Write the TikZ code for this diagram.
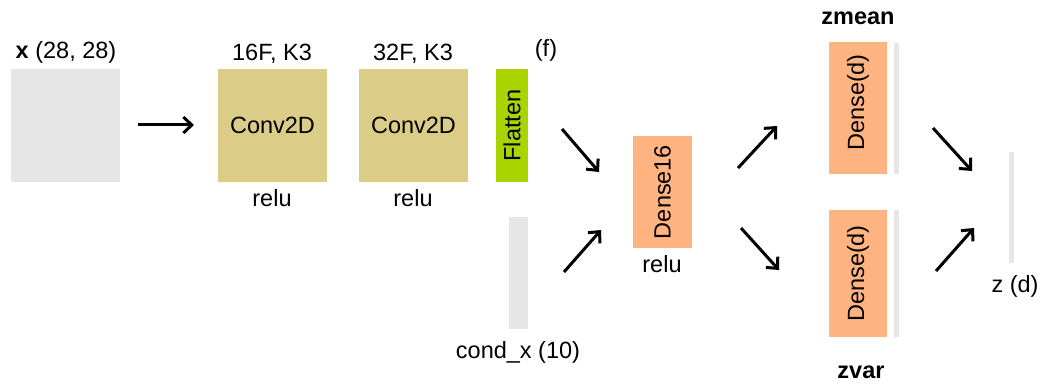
\documentclass[tikz,border=0pt]{standalone}
\usepackage{fontspec}
\setmainfont{Liberation Sans}
\usetikzlibrary{arrows.meta}
\definecolor{inputgray}{HTML}{E6E6E6}
\definecolor{convtan}{HTML}{DBCC88}
\definecolor{flatgreen}{HTML}{AAD400}
\definecolor{densesalmon}{HTML}{FFB380}
\tikzset{
  layer/.style={draw=none, inner sep=0pt, outer sep=0pt, font=\fontsize{23.5}{27}\selectfont},
  datavec/.style={layer, fill=inputgray},
  conv/.style={layer, fill=convtan},
  flat/.style={layer, fill=flatgreen},
  dense/.style={layer, fill=densesalmon},
  lbl/.style={inner sep=0pt, outer sep=0pt, anchor=base, font=\fontsize{23.5}{27}\selectfont},
  flow/.style={line width=3pt, -{Straight Barb[length=8.5pt,width=16pt,line width=3pt]}}
}
\begin{document}
\begin{tikzpicture}[x=1pt,y=-1pt]
\useasboundingbox (0,0) rectangle (1044,387);

% input image and convolution stack
\node[datavec, minimum width=109pt, minimum height=113pt] (x) at (65.5,125.5) {};
\node[conv, minimum width=109pt, minimum height=113pt] (c1) at (272.5,125.5) {Conv2D};
\node[conv, minimum width=109pt, minimum height=113pt] (c2) at (413.5,125.5) {Conv2D};
\node[flat, minimum width=32pt, minimum height=113pt] (fl) at (512,125.5) {\rotatebox{90}{Flatten}};
\node[datavec, minimum width=19pt, minimum height=112pt] (cx) at (518.5,273) {};

% dense layers
\node[dense, minimum width=59pt, minimum height=112pt] (d16) at (662.5,192) {\rotatebox{90}{Dense16}};
\node[dense, minimum width=58pt, minimum height=132pt] (dm) at (858,108) {\rotatebox{90}{\hspace*{11pt}Dense(d)}};
\node[dense, minimum width=58pt, minimum height=127pt] (dv) at (858,273.5) {\rotatebox{90}{Dense(d)}};
\node[datavec, minimum width=5pt, minimum height=131pt] (bm) at (896.5,108.5) {};
\node[datavec, minimum width=5pt, minimum height=127pt] (bv) at (896.5,273.5) {};
\node[datavec, minimum width=5pt, minimum height=111pt] (z) at (1011.5,207.5) {};

% labels
\node[lbl] (lx) at (66,59) {\textbf{x} (28, 28)};
\node[lbl] (l1) at (272,61) {16F, K3};
\node[lbl] (l2) at (413,61) {32F, K3};
\node[lbl] (lf) at (546,57) {(f)};
\node[lbl] (r1) at (272,207) {relu};
\node[lbl] (r2) at (413,207) {relu};
\node[lbl] (r3) at (662,273) {relu};
\node[lbl] (lcx) at (518,358) {cond\_x (10)};
\node[lbl] (lzm) at (858,25) {\textbf{zmean}};
\node[lbl] (lzv) at (861,378) {\textbf{zvar}};
\node[lbl] (lz) at (1015,293) {z (d)};

% arrow end points
\coordinate (a0s) at (138,125);  \coordinate (a0e) at (194,125);
\coordinate (a1s) at (562,129);  \coordinate (a1e) at (599,172);
\coordinate (a2s) at (564,272);  \coordinate (a2e) at (601,230);
\coordinate (a3s) at (738,168);  \coordinate (a3e) at (777,126);
\coordinate (a4s) at (741,228);  \coordinate (a4e) at (779,270);
\coordinate (a5s) at (933,128);  \coordinate (a5e) at (972,171);
\coordinate (a6s) at (936,271);  \coordinate (a6e) at (974,228);

\draw[flow] (a0s) -- (a0e);
\draw[flow] (a1s) -- (a1e);
\draw[flow] (a2s) -- (a2e);
\draw[flow] (a3s) -- (a3e);
\draw[flow] (a4s) -- (a4e);
\draw[flow] (a5s) -- (a5e);
\draw[flow] (a6s) -- (a6e);
\end{tikzpicture}
\end{document}
